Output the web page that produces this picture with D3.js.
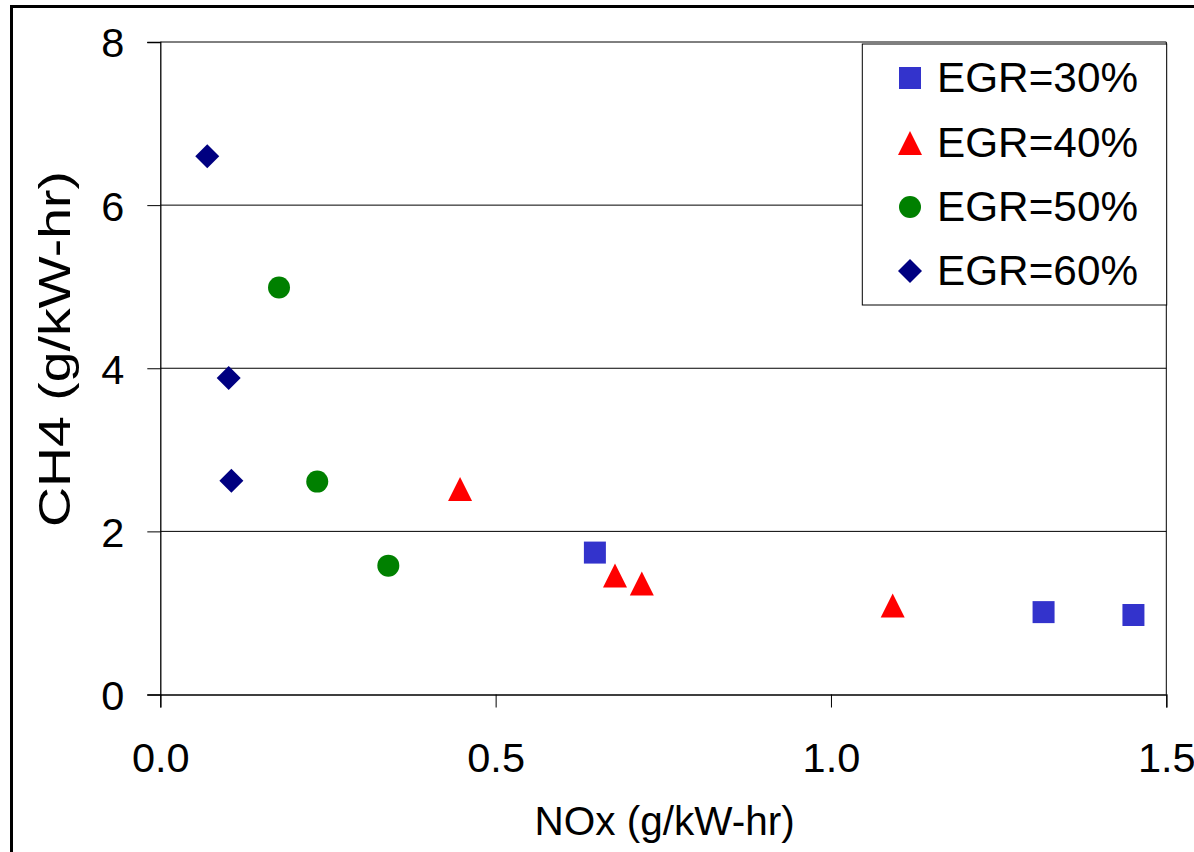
<!DOCTYPE html>
<html>
<head>
<meta charset="utf-8">
<script src="https://cdn.jsdelivr.net/npm/d3@7"></script>
<style>
  html, body { margin: 0; padding: 0; background: #fff; }
  svg { display: block; font-family: "Liberation Sans", Arial, sans-serif; }
</style>
</head>
<body>
<svg id="chart" width="1194" height="852"></svg>
<script>
// ---- data ----
const seriesNames = ["EGR=30%", "EGR=40%", "EGR=50%", "EGR=60%"];
const egr30 = [[0.648, 1.74], [1.317, 1.01], [1.451, 0.975]];
const egr40 = [[0.447, 2.52], [0.678, 1.46], [0.718, 1.36], [1.092, 1.09]];
const egr50 = [[0.177, 4.99], [0.234, 2.61], [0.340, 1.58]];
const egr60 = [[0.070, 6.60], [0.102, 3.88], [0.106, 2.62]];
const xTicks = [0.0, 0.5, 1.0, 1.5];
const yTicks = [0, 2, 4, 6, 8];
const xTitle = "NOx (g/kW-hr)";
const yTitle = "CH4 (g/kW-hr)";

const svg = d3.select("#chart");
const W = 1194, H = 852;
const pLeft = 160.3, pRight = 1166.3, pTop = 42, pBottom = 694.5;

const x = d3.scaleLinear().domain([0, 1.5]).range([pLeft, pRight]);
const y = d3.scaleLinear().domain([0, 8]).range([pBottom, pTop]);

// outer chart border (extends beyond viewport at right/bottom)
svg.append("rect").attr("x", 11.5).attr("y", 6.5).attr("width", W + 20).attr("height", H + 20)
  .attr("fill", "#fff").attr("stroke", "#000").attr("stroke-width", 3);

// gridlines
svg.append("g").selectAll("line").data(yTicks.filter(d => d > 0)).join("line")
  .attr("x1", pLeft).attr("x2", pRight)
  .attr("y1", d => y(d)).attr("y2", d => y(d))
  .attr("stroke", "#000").attr("stroke-width", 1);

// plot right border
svg.append("line").attr("x1", pRight).attr("x2", pRight).attr("y1", pTop).attr("y2", pBottom)
  .attr("stroke", "#000").attr("stroke-width", 1);

// axes
const fontSize = 41.5;
const xAxis = svg.append("g").attr("transform", `translate(0,${pBottom})`)
  .call(d3.axisBottom(x).tickValues(xTicks).tickFormat(d3.format(".1f")).tickSize(13).tickPadding(35.5));
const yAxis = svg.append("g").attr("transform", `translate(${pLeft},0)`)
  .call(d3.axisLeft(y).tickValues(yTicks).tickFormat(d3.format("d")).tickSize(13).tickPadding(23));
[xAxis, yAxis].forEach(a => {
  a.select(".domain").attr("stroke", "#000").attr("stroke-width", 1.3);
  a.selectAll(".tick line").attr("stroke", "#000").attr("stroke-width", 1);
  a.selectAll(".tick text").attr("font-size", fontSize).attr("fill", "#000")
    .attr("font-family", "'Liberation Sans', Arial, sans-serif");
});
yAxis.selectAll(".tick text").attr("dy", "0.36em");
xAxis.selectAll(".tick text").attr("dy", "0.71em");

// axis titles
svg.append("text").attr("x", 664.7).attr("y", 835).attr("text-anchor", "middle")
  .attr("font-size", 40.5).attr("fill", "#000").text(xTitle);
svg.append("text").attr("transform", "translate(70,349) rotate(-90)")
  .attr("text-anchor", "middle").attr("font-size", 44).attr("fill", "#000")
  .attr("textLength", 356).attr("lengthAdjust", "spacingAndGlyphs").text(yTitle);

// marker generators
const colors = ["#3333CC", "#FF0000", "#008000", "#000080"];
const shapes = [
  () => d3.symbol(d3.symbolSquare, 484)(),
  () => "M0,-12L12,12L-12,12Z",
  () => d3.symbol(d3.symbolCircle, Math.PI * 11 * 11)(),
  () => d3.symbol(d3.symbolSquare, 288)()
];
const rotations = [0, 0, 0, 45];
const allSeries = [egr30, egr40, egr50, egr60];

allSeries.forEach((data, i) => {
  svg.append("g").selectAll("path").data(data).join("path")
    .attr("d", shapes[i]())
    .attr("transform", d => `translate(${x(d[0])},${y(d[1])}) rotate(${rotations[i]})`)
    .attr("fill", colors[i]);
});

// legend
const lg = svg.append("g");
lg.append("rect").attr("x", 862.3).attr("y", 44).attr("width", 304.4).attr("height", 261)
  .attr("fill", "#fff").attr("stroke", "#000").attr("stroke-width", 1);
const rowY = [78, 143, 207, 271];
seriesNames.forEach((name, i) => {
  lg.append("path").attr("d", shapes[i]())
    .attr("transform", `translate(910,${rowY[i]}) rotate(${rotations[i]})`)
    .attr("fill", colors[i]);
  lg.append("text").attr("x", 937).attr("y", rowY[i] + 14).attr("font-size", 42.3)
    .attr("fill", "#000").text(name);
});
</script>
</body>
</html>
